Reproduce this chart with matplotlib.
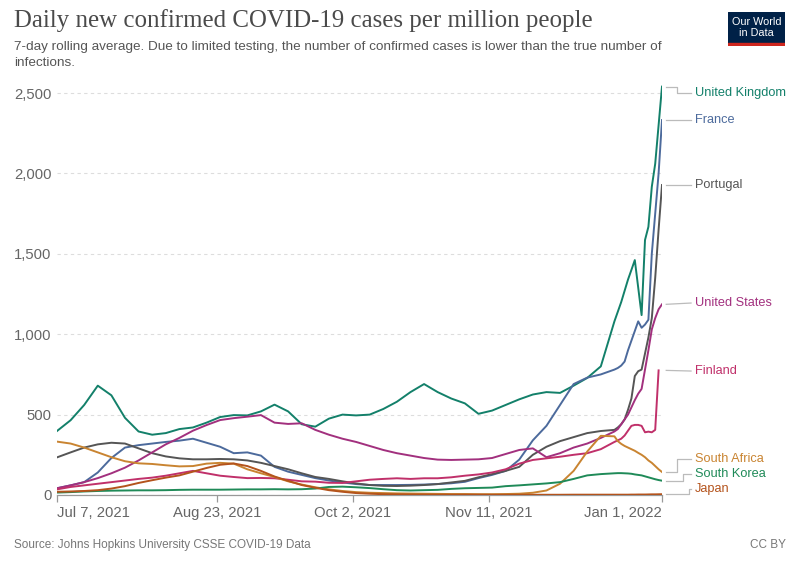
import matplotlib
matplotlib.use("Agg")
import matplotlib.pyplot as plt
import matplotlib.transforms as mtransforms
import numpy as np
import pandas as pd

# ---------------- data ----------------
dates = ["2021-07-07","2021-07-11","2021-07-15","2021-07-19","2021-07-23","2021-07-27","2021-07-31",
         "2021-08-04","2021-08-08","2021-08-12","2021-08-16","2021-08-20","2021-08-24","2021-08-28",
         "2021-09-01","2021-09-05","2021-09-09","2021-09-13","2021-09-17","2021-09-21","2021-09-25",
         "2021-09-29","2021-10-03","2021-10-07","2021-10-11","2021-10-15","2021-10-19","2021-10-23",
         "2021-10-27","2021-10-31","2021-11-04","2021-11-08","2021-11-12","2021-11-16","2021-11-20",
         "2021-11-24","2021-11-28","2021-12-02","2021-12-06","2021-12-10","2021-12-14","2021-12-18",
         "2021-12-19","2021-12-20","2021-12-21","2021-12-22","2021-12-23","2021-12-24","2021-12-25",
         "2021-12-26","2021-12-27","2021-12-28","2021-12-29","2021-12-30","2021-12-31","2022-01-01"]

united_kingdom = [398, 465, 560, 680, 620, 480, 395, 375, 385, 410, 420, 450, 485, 497,
                  495, 520, 562, 520, 440, 425, 475, 500, 495, 500, 535, 580, 640, 690,
                  640, 600, 570, 505, 525, 560, 595, 625, 640, 635, 680, 728, 800, 1080,
                  1140, 1200, 1270, 1340, 1400, 1461, 1290, 1119, 1586, 1668, 1917, 2060, 2300, 2540]

france = [42, 60, 80, 140, 230, 295, 310, 320, 330, 338, 350, 325, 300, 260,
          265, 245, 175, 145, 125, 105, 90, 78, 68, 62, 62, 62, 63, 65,
          68, 73, 82, 105, 125, 150, 220, 340, 430, 560, 690, 730, 750, 780,
          790, 805, 830, 900, 960, 1020, 1080, 1040, 1060, 1090, 1500, 1750, 2000, 2332]

portugal = [234, 265, 295, 315, 325, 320, 290, 260, 240, 228, 222, 222, 224, 222,
            215, 200, 180, 160, 135, 112, 100, 85, 72, 62, 57, 56, 58, 62,
            68, 78, 88, 110, 130, 150, 175, 250, 300, 335, 360, 385, 398, 405,
            420, 440, 470, 530, 600, 740, 770, 780, 880, 980, 1100, 1350, 1650, 1928]

united_states = [42, 60, 80, 105, 135, 170, 215, 265, 315, 355, 400, 435, 466, 478,
                 487, 497, 450, 442, 446, 405, 375, 350, 330, 305, 280, 260, 245, 230,
                 220, 218, 220, 222, 230, 255, 280, 290, 235, 260, 295, 320, 355, 395,
                 410, 440, 470, 500, 545, 590, 630, 660, 780, 900, 1030, 1100, 1155, 1186]

finland = [35, 50, 60, 70, 80, 90, 100, 108, 120, 135, 150, 135, 120, 112,
           105, 106, 104, 95, 85, 83, 76, 75, 85, 95, 100, 104, 100, 104,
           104, 110, 120, 128, 140, 160, 195, 218, 228, 238, 250, 260, 285, 330,
           340, 350, 370, 400, 430, 436, 436, 430, 390, 394, 390, 405, 775, np.nan]

south_africa = [332, 320, 295, 265, 235, 210, 197, 193, 185, 178, 180, 195, 200, 195,
                160, 135, 112, 85, 65, 48, 35, 25, 18, 14, 12, 10, 9, 8,
                7, 6, 6, 5, 5, 6, 8, 14, 28, 70, 150, 270, 368, 365,
                335, 318, 305, 295, 285, 275, 262, 250, 235, 215, 200, 180, 160, 143]

south_korea = [15, 18, 22, 25, 27, 28, 29, 29, 30, 32, 33, 33, 33, 34,
               35, 35, 36, 35, 36, 40, 50, 52, 48, 43, 36, 30, 28, 30,
               32, 38, 42, 44, 46, 55, 60, 66, 72, 80, 100, 122, 130, 135,
               136, 136, 135, 134, 132, 128, 125, 122, 116, 110, 104, 98, 93, 89]

japan = [20, 22, 25, 30, 40, 55, 75, 92, 108, 122, 145, 168, 188, 196,
         180, 150, 115, 88, 62, 45, 30, 20, 12, 8, 5, 4, 3, 2.5,
         2, 2, 2, 2, 1.5, 1.5, 1.5, 1.5, 1.5, 1.5, 2, 2, 2, 2,
         2, 2, 2, 2, 2.5, 2.5, 3, 3, 3, 3.5, 4, 4, 4.5, 5]

countries = ["United Kingdom", "France", "Portugal", "United States", "Finland",
             "South Africa", "South Korea", "Japan"]
series = [united_kingdom, france, portugal, united_states, finland,
          south_africa, south_korea, japan]

x_ticks = ["2021-07-07", "2021-08-23", "2021-10-02", "2021-11-11", "2022-01-01"]
x_tick_labels = ["Jul 7, 2021", "Aug 23, 2021", "Oct 2, 2021", "Nov 11, 2021", "Jan 1, 2022"]
y_ticks = [0, 500, 1000, 1500, 2000, 2500]
y_tick_labels = ["0", "500", "1,000", "1,500", "2,000", "2,500"]

# ---------------- styles / layout ----------------
colors = {
    "United Kingdom": "#13806A",
    "France": "#4C6A9C",
    "Portugal": "#555555",
    "United States": "#A2307E",
    "Finland": "#C0306A",
    "South Africa": "#C98431",
    "South Korea": "#1F8A58",
    "Japan": "#B4531C",
}
# label vertical positions (data units) after collision avoidance
label_y = {
    "United Kingdom": 2498, "France": 2332, "Portugal": 1928, "United States": 1194,
    "Finland": 771, "South Africa": 225, "South Korea": 129, "Japan": 35,
}
# x (axes fraction) of the elbow in the connector
elbow_x = {
    "United Kingdom": 1.024, "South Africa": 1.0245, "South Korea": 1.034, "Japan": 1.045,
}

sans = ["Liberation Sans", "DejaVu Sans"]
plt.rcParams["font.family"] = sans

fig = plt.figure(figsize=(8.0, 5.65), dpi=100)
ax = fig.add_axes([57/800, 1 - 495/565, (662-57)/800, (495-85)/565])

d = pd.to_datetime(dates)
for name, vals in zip(countries, series):
    ax.plot(d, vals, color=colors[name], lw=1.4, solid_joinstyle="round", zorder=3)

ax.set_xlim(pd.Timestamp("2021-07-07"), pd.Timestamp("2022-01-01"))
ax.set_ylim(0, 2550)

ax.set_yticks(y_ticks)
ax.set_yticklabels(y_tick_labels)
ax.set_xticks(pd.to_datetime(x_ticks))
ax.set_xticklabels(x_tick_labels)
for i, lab in enumerate(ax.get_xticklabels()):
    if i == 0:
        lab.set_ha("left")
    elif i == len(x_ticks) - 1:
        lab.set_ha("right")
    else:
        lab.set_ha("center")

for s in ["top", "right", "left"]:
    ax.spines[s].set_visible(False)
ax.spines["bottom"].set_color("#999999")
ax.spines["bottom"].set_linewidth(0.9)
ax.tick_params(axis="y", length=0, pad=4, labelsize=10.7, labelcolor="#666666")
ax.tick_params(axis="x", length=5, width=0.9, color="#999999", pad=3, labelsize=10.7,
               labelcolor="#666666", direction="out")
ax.yaxis.grid(True, color="#dddddd", linestyle=(0, (3, 3)), lw=0.8)
ax.set_axisbelow(True)

# line end labels with connectors
trans = mtransforms.blended_transform_factory(ax.transAxes, ax.transData)
last_vals = {}
for name, vals in zip(countries, series):
    v = [x for x in vals if not (isinstance(x, float) and np.isnan(x))]
    last_vals[name] = v[-1]
for name in countries:
    y_end = last_vals[name]
    y_lab = label_y[name]
    if name in elbow_x:
        ex = elbow_x[name]
        ax.plot([1.007, ex, ex, 1.048], [y_end, y_end, y_lab, y_lab], transform=trans,
                color="#bbbbbb", lw=0.9, clip_on=False)
    else:
        ax.plot([1.007, 1.048], [y_end, y_lab], transform=trans,
                color="#bbbbbb", lw=0.9, clip_on=False)
    ax.text(1.054, y_lab, name, transform=trans, color=colors[name], fontsize=9.2,
            va="center", ha="left")

# titles
fig.text(14/800, 1 - 21/565, "Daily new confirmed COVID-19 cases per million people",
         family=["Liberation Serif", "DejaVu Serif"], fontsize=17.9, color="#4a4a4a",
         va="center", ha="left")
fig.text(14/800, 1 - 47/565,
         "7-day rolling average. Due to limited testing, the number of confirmed cases is lower than the true number of",
         fontsize=9.7, color="#555555", va="center", ha="left")
fig.text(14/800, 1 - 63/565, "infections.", fontsize=9.7, color="#555555", va="center", ha="left")

# footer
fig.text(14/800, 1 - 545/565, "Source: Johns Hopkins University CSSE COVID-19 Data",
         fontsize=8.5, color="#777777", va="center", ha="left")
fig.text(786/800, 1 - 545/565, "CC BY", fontsize=8.5, color="#777777", va="center", ha="right")

# logo
logo = fig.add_axes([728/800, 1 - 46/565, 57/800, 34/565])
logo.set_xlim(0, 1)
logo.set_ylim(0, 1)
logo.axis("off")
logo.add_patch(plt.Rectangle((0, 0.1), 1, 0.9, color="#002147"))
logo.add_patch(plt.Rectangle((0, 0), 1, 0.1, color="#CE261E"))
logo.text(0.5, 0.72, "Our World", color="white", fontsize=7.8, ha="center", va="center")
logo.text(0.5, 0.37, "in Data", color="white", fontsize=7.8, ha="center", va="center")

fig.savefig("out.png", dpi=100)
